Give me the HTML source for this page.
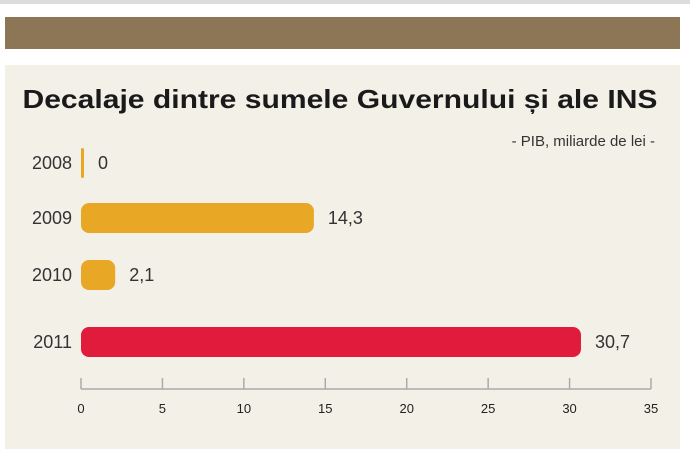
<!DOCTYPE html>
<html><head><meta charset="utf-8"><style>
body{margin:0;width:700px;height:451px;background:#fff;overflow:hidden;font-family:"Liberation Sans",sans-serif}
</style></head><body>
<div style="position:absolute;left:0;top:0;width:690px;height:4px;background:#dcdcdc"></div>
<div style="position:absolute;left:5px;top:17px;width:675px;height:32px;background:#8c7656"></div>
<div style="position:absolute;left:5px;top:65px;width:675px;height:384px;background:#f3f0e8"></div>
<svg width="700" height="451" style="position:absolute;left:0;top:0">
<text x="340" y="108" text-anchor="middle" font-family="Liberation Sans, sans-serif" font-weight="900" font-size="26" fill="#1a1a1a" textLength="635" lengthAdjust="spacingAndGlyphs">Decalaje dintre sumele Guvernului și ale INS</text>
<text x="655" y="146" text-anchor="end" font-size="15" fill="#333">- PIB, miliarde de lei -</text>
<g id="bars"></g><g id="axis"></g>
</svg>
<script>
const categories=["2008","2009","2010","2011"];
const values=[0,14.3,2.1,30.7];
const valueLabels=["0","14,3","2,1","30,7"];
const tickValues=[0,5,10,15,20,25,30,35];
const colors=["#e8a724","#e8a724","#e8a724","#e01b3c"];
const NS="http://www.w3.org/2000/svg";
const x0=81,x1=651,xmax=35;
function xs(v){return x0+(x1-x0)*v/xmax;}
const rowY=[163,218,275,342];
function ys(i){return rowY[i];}
const bh=30;
const bars=document.getElementById('bars');
categories.forEach((c,i)=>{
  const y=ys(i);
  const w=Math.max(3,xs(values[i])-x0);
  const r=document.createElementNS(NS,'rect');
  
  
  r.setAttribute('x',x0);r.setAttribute('y',y-bh/2);r.setAttribute('width',w);r.setAttribute('height',bh);
  r.setAttribute('rx',Math.min(8,w/2));r.setAttribute('fill',colors[i]);
  bars.appendChild(r);
  const t=document.createElementNS(NS,'text');
  
  
  t.setAttribute('x',72);t.setAttribute('y',y+6);t.setAttribute('text-anchor','end');
  t.setAttribute('font-size','18');t.setAttribute('fill','#333');t.textContent=c;
  bars.appendChild(t);
  const v=document.createElementNS(NS,'text');
  
  
  v.setAttribute('x',x0+w+14);v.setAttribute('y',y+6);
  v.setAttribute('font-size','18');v.setAttribute('fill','#333');v.textContent=valueLabels[i];
  bars.appendChild(v);
});
const ax=document.getElementById('axis');
const line=document.createElementNS(NS,'line');


line.setAttribute('x1',x0);line.setAttribute('x2',x1);line.setAttribute('y1',389);line.setAttribute('y2',389);
line.setAttribute('stroke','#aaa');line.setAttribute('stroke-width','1.5');
ax.appendChild(line);
tickValues.forEach(v=>{
  const l=document.createElementNS(NS,'line');
  
  
  l.setAttribute('x1',xs(v));l.setAttribute('x2',xs(v));l.setAttribute('y1',378);l.setAttribute('y2',389);
  l.setAttribute('stroke','#aaa');l.setAttribute('stroke-width','1.5');
  ax.appendChild(l);
  const t=document.createElementNS(NS,'text');
  
  
  t.setAttribute('x',xs(v));t.setAttribute('y',413);t.setAttribute('text-anchor','middle');
  t.setAttribute('font-size','13');t.setAttribute('fill','#222');t.textContent=v;
  ax.appendChild(t);
});
</script>
</body></html>
